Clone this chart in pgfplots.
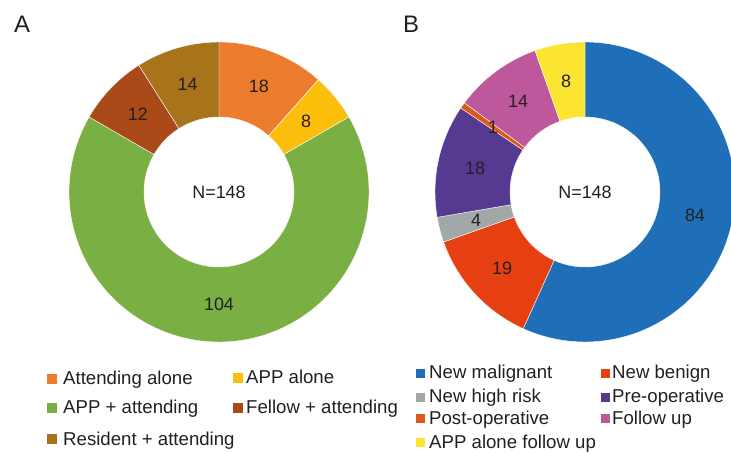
\documentclass[border=0pt]{standalone}
\usepackage{fontspec}
\setmainfont{Liberation Sans}
\usepackage{etoolbox}
\usepackage{pgfplots}
\usepackage{pgfplotstable}
\pgfplotsset{compat=1.18}

% slice colours
\definecolor{txt}{HTML}{231F20}
\definecolor{cAatt}{HTML}{ED7D2E}
\definecolor{cAapp}{HTML}{FBBE0A}
\definecolor{cAappatt}{HTML}{7AAF43}
\definecolor{cAfel}{HTML}{AB4A19}
\definecolor{cAres}{HTML}{A7741C}
\definecolor{cBmal}{HTML}{1F6FB8}
\definecolor{cBben}{HTML}{E63F12}
\definecolor{cBhigh}{HTML}{A2A8A8}
\definecolor{cBpre}{HTML}{563A92}
\definecolor{cBpost}{HTML}{D95A1B}
\definecolor{cBfol}{HTML}{BD589C}
\definecolor{cBappf}{HTML}{FCE531}

% visits by provider
\pgfplotstableread[col sep=comma]{
category,count,colour
Attending alone,18,cAatt
APP alone,8,cAapp
APP + attending,104,cAappatt
Fellow + attending,12,cAfel
Resident + attending,14,cAres
}\visitsA

% visits by type
\pgfplotstableread[col sep=comma]{
category,count,colour
New malignant,84,cBmal
New benign,19,cBben
New high risk,4,cBhigh
Pre-operative,18,cBpre
Post-operative,1,cBpost
Follow up,14,cBfol
APP alone follow up,8,cBappf
}\visitsB

\def\Rout{150}
\def\Rin{75}
\def\Rlab{112.5}
\newcommand\numfont{\fontsize{18}{18}\selectfont}
\newcommand\legfont{\fontsize{18.7}{18.7}\selectfont}

% builds the ring of slices (clockwise from 12 o'clock) into macro #4
% and its value labels into macro #5; #1 table, #2/#3 centre in axis units
\newcommand\builddonut[5]{%
  \gdef#4{}\gdef#5{}%
  \pgfplotstablegetrowsof{#1}%
  \pgfmathtruncatemacro\nrows{\pgfplotsretval-1}%
  \def\tot{0}%
  \pgfplotsforeachungrouped \i in {0,...,\nrows}{%
    \pgfplotstablegetelem{\i}{count}\of{#1}%
    \pgfmathsetmacro\tot{\tot+\pgfplotsretval}}%
  \def\cum{0}%
  \pgfplotsforeachungrouped \i in {0,...,\nrows}{%
    \pgfplotstablegetelem{\i}{count}\of{#1}\edef\val{\pgfplotsretval}%
    \pgfplotstablegetelem{\i}{colour}\of{#1}\edef\col{\pgfplotsretval}%
    \pgfmathsetmacro\angA{90-360*(\cum/\tot)}%
    \pgfmathsetmacro\angB{90-360*((\cum+\val)/\tot)}%
    \pgfmathsetmacro\angM{(\angA+\angB)/2}%
    \pgfmathsetmacro\xoa{#2+\Rout*cos(\angA)}%
    \pgfmathsetmacro\yoa{#3+\Rout*sin(\angA)}%
    \pgfmathsetmacro\xib{#2+\Rin*cos(\angB)}%
    \pgfmathsetmacro\yib{#3+\Rin*sin(\angB)}%
    \pgfmathsetmacro\xm{#2+\Rlab*cos(\angM)}%
    \pgfmathsetmacro\ym{#3+\Rlab*sin(\angM)}%
    \xappto#4{%
      \noexpand\fill[\col, draw=white, line width=0.4pt]
        (axis cs:\xoa,\yoa) arc[start angle=\angA, end angle=\angB, radius=\Rout bp]
        -- (axis cs:\xib,\yib) arc[start angle=\angB, end angle=\angA, radius=\Rin bp]
        -- cycle;}%
    \xappto#5{%
      \noexpand\node[text=txt, font=\noexpand\numfont] at (axis cs:\xm,\ym) {\val};}%
    \pgfmathsetmacro\cum{\cum+\val}%
  }%
  \xappto#5{\noexpand\node[text=txt, font=\noexpand\numfont] at (axis cs:#2,#3) {N=148};}%
}

\builddonut{\visitsA}{219}{261}{\donutA}{\labelsA}
\builddonut{\visitsB}{585}{261}{\donutB}{\labelsB}

% legend entry: colour, square left x, square size, text x, baseline y, text
\newcommand\legentry[6]{%
  \fill[#1] (axis cs:#2,#5+1) rectangle (axis cs:#2+#3,#5+1+#3);
  \node[anchor=base west, inner sep=0pt, text=txt, font=\legfont] at (axis cs:#4,#5) {#6};
}

\begin{document}
\begin{tikzpicture}
\path[use as bounding box] (0,0) rectangle (731bp,453bp);
\begin{axis}[
  at={(0,0)}, anchor=south west,
  width=731bp, height=453bp, scale only axis,
  xmin=0, xmax=731, ymin=0, ymax=453,
  hide axis, clip=false,
]
\donutA
\donutB
\labelsA
\labelsB

\node[text=txt, font=\fontsize{24}{24}\selectfont] at (axis cs:22,429) {A};
\node[text=txt, font=\fontsize{24}{24}\selectfont] at (axis cs:411,429) {B};

% legend of panel A
\legentry{cAatt}{47}{10}{63}{68}{Attending alone}
\legentry{cAapp}{233}{10}{246}{69}{APP alone}
\legentry{cAappatt}{47}{10}{63}{39}{APP + attending}
\legentry{cAfel}{233}{10}{246}{39}{Fellow + attending}
\legentry{cAres}{47}{10}{63}{8}{Resident + attending}

% legend of panel B
\legentry{cBmal}{416}{9}{429}{74}{New malignant}
\legentry{cBben}{601}{9}{612}{74}{New benign}
\legentry{cBhigh}{416}{9}{429}{50}{New high risk}
\legentry{cBpre}{601}{9}{612}{50}{Pre-operative}
\legentry{cBpost}{416}{9}{429}{29}{Post-operative}
\legentry{cBfol}{601}{9}{612}{29}{Follow up}
\legentry{cBappf}{416}{9}{429}{5}{APP alone follow up}
\end{axis}
\end{tikzpicture}
\end{document}
